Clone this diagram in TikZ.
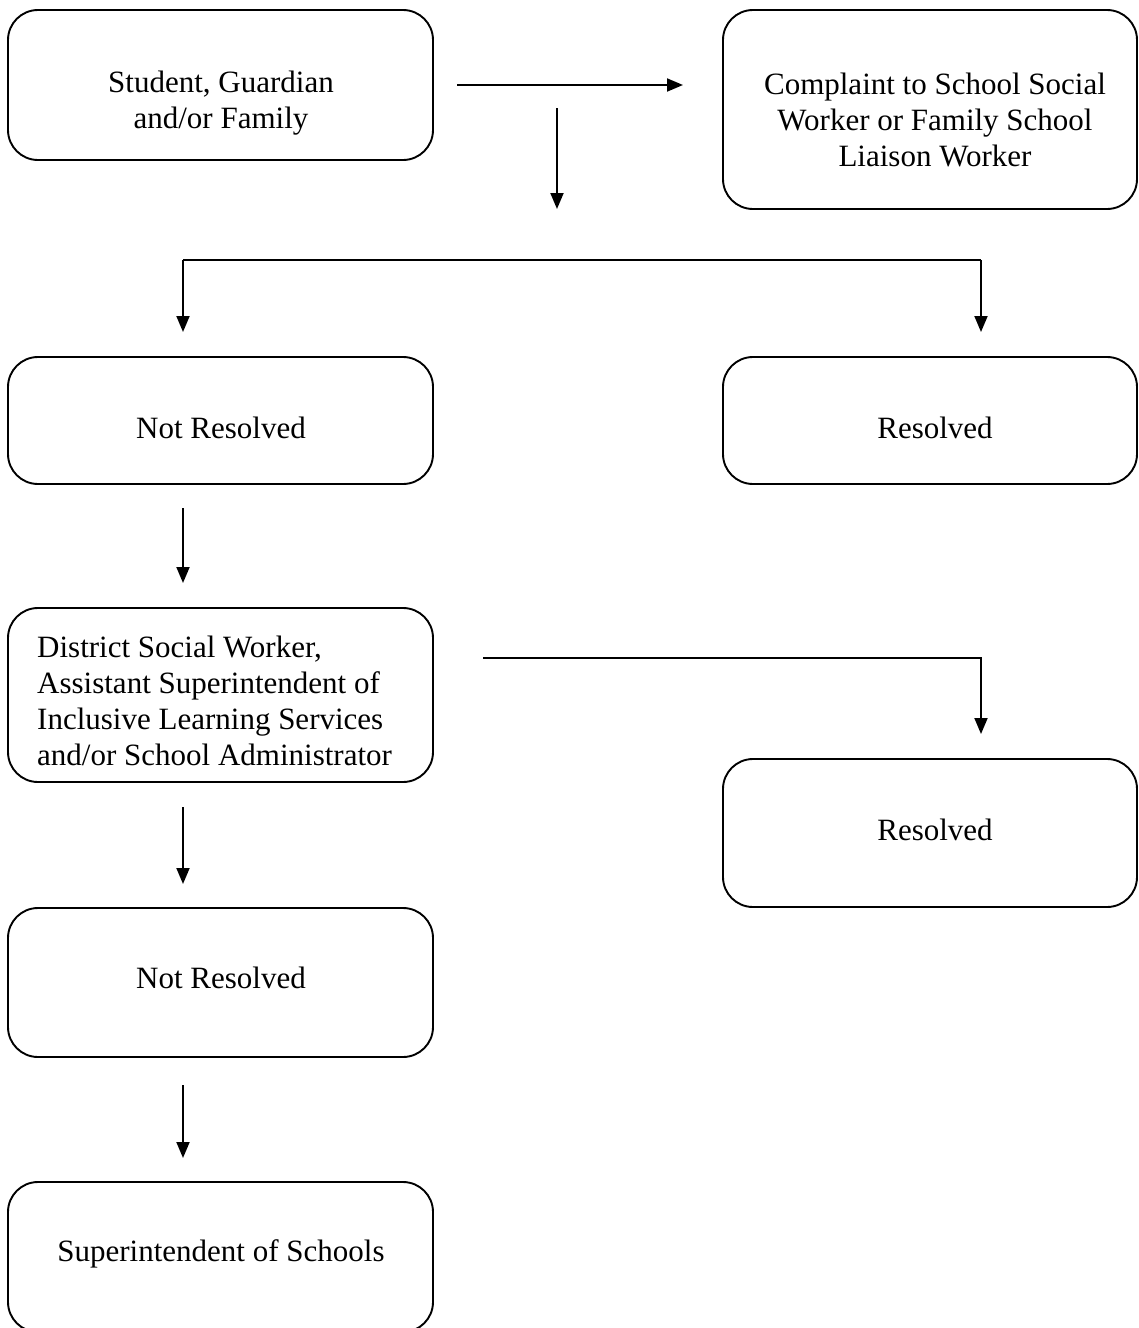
\documentclass[tikz,border=0pt]{standalone}
\usepackage{fontspec}
\setmainfont{Liberation Serif}
\usetikzlibrary{arrows.meta}
\begin{document}
\begin{tikzpicture}[x=1pt,y=-1pt,
  box/.style={draw=black, line width=1.9pt, rounded corners=30pt, inner sep=0pt},
  txt/.style={font=\fontsize{31}{36}\selectfont, inner sep=0pt, align=center},
  ltxt/.style={font=\fontsize{31}{36}\selectfont, inner sep=0pt, align=left},
  conn/.style={line width=1.9pt, -{Triangle[length=16pt,width=13pt]}},
  plain/.style={line width=1.9pt}]
\useasboundingbox (0,0) rectangle (1139,1328);
\clip (0,0) rectangle (1139,1328);
% boxes
\node[box, minimum width=425pt, minimum height=150pt] (b1) at (220.5,85) {};
\node[box, minimum width=414pt, minimum height=199pt] (b2) at (930,109.5) {};
\node[box, minimum width=425pt, minimum height=127pt] (nr1) at (220.5,420.5) {};
\node[box, minimum width=414pt, minimum height=127pt] (r1) at (930,420.5) {};
\node[box, minimum width=425pt, minimum height=174pt] (dist) at (220.5,695) {};
\node[box, minimum width=414pt, minimum height=148pt] (r2) at (930,833) {};
\node[box, minimum width=425pt, minimum height=149pt] (nr2) at (220.5,982.5) {};
\node[box, minimum width=425pt, minimum height=150pt] (sup) at (220.5,1257) {};
% texts
\node[txt] (t1) at (221,103) {Student, Guardian\\and/or Family};
\node[txt] (t2) at (935,120) {Complaint to School Social\\Worker or Family School\\Liaison Worker};
\node[txt] (t3) at (221,428) {Not Resolved};
\node[txt] (t4) at (935,428) {Resolved};
\node[ltxt, anchor=west] (t5) at (37,701) {District Social Worker,\\Assistant Superintendent of\\Inclusive Learning Services\\and/or School Administrator};
\node[txt] (t6) at (935,830) {Resolved};
\node[txt] (t7) at (221,978) {Not Resolved};
\node[txt] (t8) at (221,1254) {Superintendent of Schools};
% connector coordinates
\coordinate (h1s) at (457,85);
\coordinate (h1e) at (683,85);
\coordinate (v1s) at (557,108);
\coordinate (v1e) at (557,209);
\coordinate (brL) at (183,260);
\coordinate (brR) at (981,260);
\coordinate (brLe) at (183,332);
\coordinate (brRe) at (981,332);
\coordinate (a2s) at (183,508);
\coordinate (a2e) at (183,583);
\coordinate (d1s) at (483,658);
\coordinate (d1c) at (981,658);
\coordinate (d1e) at (981,734);
\coordinate (a3s) at (183,807);
\coordinate (a3e) at (183,884);
\coordinate (a4s) at (183,1085);
\coordinate (a4e) at (183,1158);
% connectors
\draw[conn] (h1s) -- (h1e);
\draw[conn] (v1s) -- (v1e);
\draw[plain] (brL) -- (brR);
\draw[conn] (brL) -- (brLe);
\draw[conn] (brR) -- (brRe);
\draw[conn] (a2s) -- (a2e);
\draw[conn] (d1s) -- (d1c) -- (d1e);
\draw[conn] (a3s) -- (a3e);
\draw[conn] (a4s) -- (a4e);
\end{tikzpicture}
\end{document}
